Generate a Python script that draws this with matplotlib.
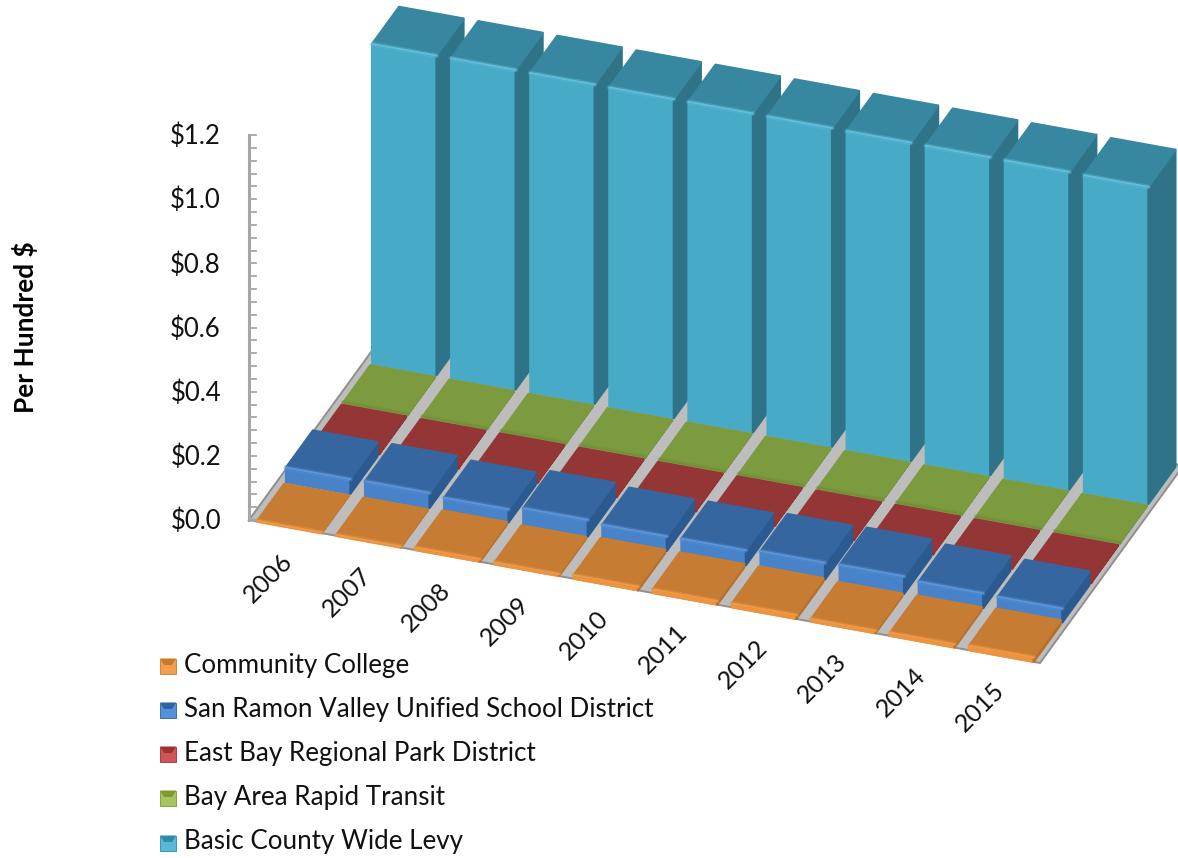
import matplotlib
matplotlib.use('Agg')
import matplotlib.pyplot as plt
from matplotlib.patches import Polygon

plt.rcParams['font.family'] = ['Lato', 'DejaVu Sans']

years = ['2006', '2007', '2008', '2009', '2010', '2011', '2012', '2013', '2014', '2015']
series_names = ['Community College', 'San Ramon Valley Unified School District',
                'East Bay Regional Park District', 'Bay Area Rapid Transit',
                'Basic County Wide Levy']
college = [0.002, 0.003, 0.008, 0.006, 0.011, 0.011, 0.012, 0.008, 0.010, 0.014]
school = [0.045, 0.047, 0.040, 0.052, 0.045, 0.046, 0.052, 0.054, 0.046, 0.043]
park = [0.002, 0.002, 0.002, 0.002, 0.002, 0.002, 0.002, 0.002, 0.002, 0.002]
bart = [0.002, 0.002, 0.002, 0.002, 0.002, 0.002, 0.002, 0.002, 0.002, 0.002]
levy = [0.996, 0.996, 0.995, 0.994, 0.994, 0.993, 0.992, 0.991, 0.990, 0.988]
value_ticks = [0.0, 0.2, 0.4, 0.6, 0.8, 1.0, 1.2]

# top, front, side, highlight
colors = [('#C67C33', '#F0923C', '#B56F2C', '#F09A48'),
          ('#35669F', '#4882C8', '#2A5A90', '#5C95D8'),
          ('#953636', '#BE4241', '#7F2D2D', '#8A3232'),
          ('#7C9A3E', '#98BA4C', '#6C8836', '#71903A'),
          ('#36879F', '#47ABC8', '#2F7388', '#62BEDA')]
legend_dark = ['#C67C2C', '#2F62A0', '#A03030', '#7C9A30', '#2E8AA8']
legend_light = ['#F2A050', '#5590D8', '#D05558', '#A6C460', '#58BAD8']

ORIGIN = (249.0, 520.0)
X_STEP = (79.1, 14.3)
DEPTH_STEP = (28.7, -39.5)
V_SCALE = 320.8
BAR_W = 0.815
BAR_D = 0.94


# oblique projection: category, series depth, value -> canvas pixels
def proj(c, d, v):
    return (ORIGIN[0] + c * X_STEP[0] + d * DEPTH_STEP[0],
            ORIGIN[1] + c * X_STEP[1] + d * DEPTH_STEP[1] - v * V_SCALE)


fig = plt.figure(figsize=(11.78, 8.58), dpi=100)
ax = fig.add_axes([0, 0, 1, 1])
ax.set_xlim(0, 1178)
ax.set_ylim(858, 0)
ax.axis('off')

# floor
n = len(years)
ax.add_patch(Polygon([proj(0, 0, 0), proj(n, 0, 0), proj(n, 5, 0), proj(0, 5, 0)],
                     closed=True, fc='#BDBDBD', ec='#8F8F8F', lw=1.4, zorder=1))

# value axis
px, py0 = proj(0, 0, 0)
ax.plot([px, px], [py0, proj(0, 0, 1.2)[1]], color='#A6A6A6', lw=2.2, zorder=2)
for k in range(31):
    ty = proj(0, 0, k * 0.04)[1]
    ax.plot([px, px + 6.5], [ty, ty], color='#A6A6A6', lw=1.3, zorder=2)
for v in value_ticks:
    ax.text(221, proj(0, 0, v)[1] + 1.5, '$%.1f' % v, ha='right', va='center', fontsize=18.5, color='#111111')


def draw_bar(c, s, v, cols, z):
    top, front, side, hi = cols
    x0 = c + (1 - BAR_W) / 2 + 0.012
    x1 = x0 + BAR_W
    d0 = s
    d1 = s + BAR_D
    faces = [([proj(x0, d0, 0), proj(x1, d0, 0), proj(x1, d0, v), proj(x0, d0, v)], front),
             ([proj(x1, d0, 0), proj(x1, d1, 0), proj(x1, d1, v), proj(x1, d0, v)], side),
             ([proj(x0, d0, v), proj(x1, d0, v), proj(x1, d1, v), proj(x0, d1, v)], top)]
    for pts, col in faces:
        ax.add_patch(Polygon(pts, closed=True, fc=col, ec=col, lw=1.6, joinstyle='round', zorder=z))
    # bevelled front edge of the top
    a, b = proj(x0, d0, v), proj(x1, d0, v)
    ax.plot([a[0], b[0]], [a[1], b[1]], color=hi, lw=3.5, alpha=0.35, solid_capstyle='round', zorder=z + 0.01)
    ax.plot([a[0], b[0]], [a[1], b[1]], color=hi, lw=1.4, solid_capstyle='round', zorder=z + 0.02)


all_series = [college, school, park, bart, levy]
# back row first, left to right so each bar covers its neighbour's side
for s in range(4, -1, -1):
    for c in range(n):
        draw_bar(c, s, all_series[s][c], colors[s], 10 + (4 - s) * 20 + c * 0.1)

for c, year in enumerate(years):
    lx, ly = proj(c + 0.5, 0, 0)
    ax.text(lx - 20.5, ly + 51, year, rotation=45, ha='center', va='center', fontsize=18, color='#111111')

ax.text(25, 327.5, 'Per Hundred $', rotation=90, ha='center', va='center', fontsize=18.9,
        fontweight='bold', color='#000000')

# legend
legend_y = [666, 710, 754, 798, 843]
for name, ly, dark, light in zip(series_names, legend_y, legend_dark, legend_light):
    ax.add_patch(Polygon([(160, ly - 7.5), (176, ly - 7.5), (176, ly + 7.5), (160, ly + 7.5)], closed=True,
                         fc=light, ec=dark, lw=0.6, zorder=200))
    ax.add_patch(Polygon([(160, ly - 7.5), (176, ly - 7.5), (172, ly - 1), (164, ly - 1)], closed=True,
                         fc=dark, ec='none', zorder=201))
    ax.text(184, ly - 1, name, ha='left', va='center', fontsize=18.7, color='#111111', zorder=200)

fig.savefig('out.png', dpi=100)
